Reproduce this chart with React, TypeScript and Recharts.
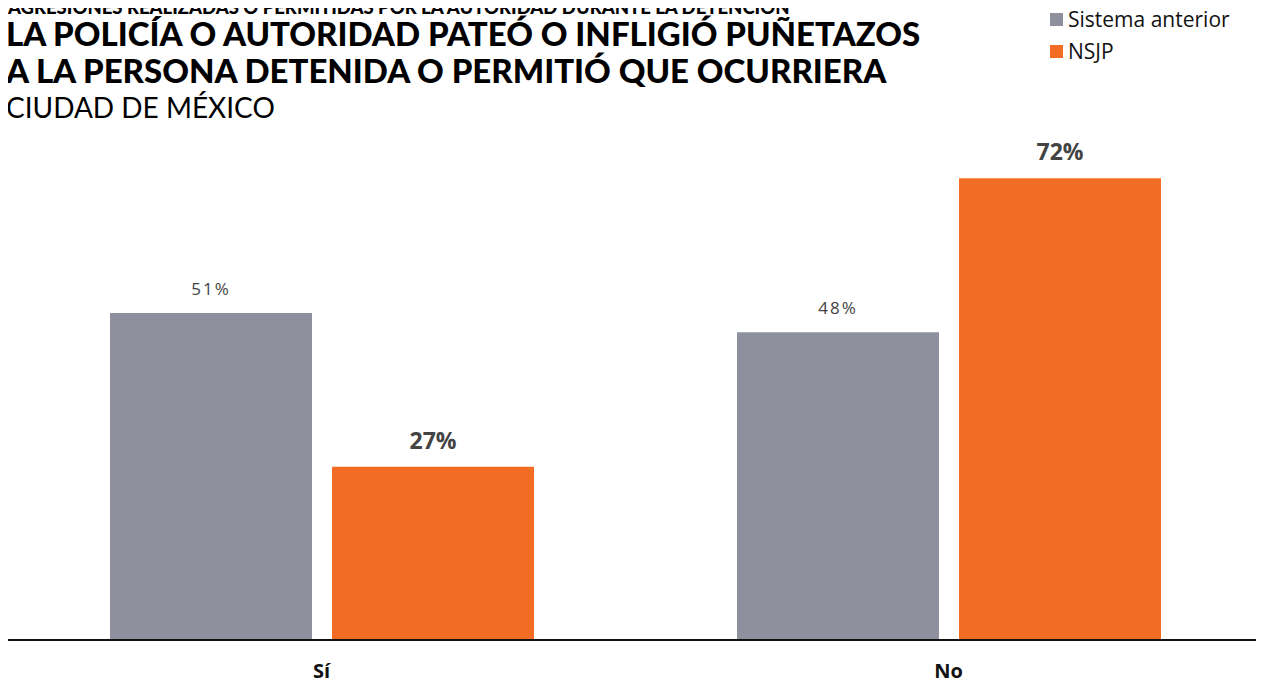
import { BarChart, Bar, XAxis, YAxis, LabelList } from 'recharts'

const categories = ['Sí', 'No']
const sistemaAnterior = [51, 48]
const nsjp = [27, 72]
const seriesNames = ['Sistema anterior', 'NSJP']

const GRAY = '#8e919d'
const ORANGE = '#f36c23'

const data = categories.map((c, i) => ({
  cat: c,
  anterior: sistemaAnterior[i],
  nsjp: nsjp[i],
}))

const CatTick = (props: any) => {
  const { x, y, payload } = props
  return (
    <text x={x} y={y + 30} textAnchor="middle" fill="#111" fontSize={20} fontWeight={700} fontFamily="'Open Sans', sans-serif">
      {payload.value}
    </text>
  )
}

export default function App() {
  return (
    <div style={{ position: 'relative', width: 1264, height: 683, margin: '-8px 0 0 -8px', background: '#fff', overflow: 'hidden', fontFamily: 'Lato, sans-serif' }}>
      <div style={{ position: 'absolute', left: 8, top: -2, fontSize: 18.5, lineHeight: 1, fontWeight: 900, color: '#000', whiteSpace: 'nowrap' }}>
        AGRESIONES REALIZADAS O PERMITIDAS POR LA AUTORIDAD DURANTE LA DETENCIÓN
      </div>
      <div style={{ position: 'absolute', left: 6, top: 15, fontSize: 33, fontWeight: 900, color: '#000', lineHeight: '37px', whiteSpace: 'nowrap' }}>
        LA POLICÍA O AUTORIDAD PATEÓ O INFLIGIÓ PUÑETAZOS<br />
        A LA PERSONA DETENIDA O PERMITIÓ QUE OCURRIERA
      </div>
      <div style={{ position: 'absolute', left: 6, top: 90, fontSize: 28, fontWeight: 400, color: '#000', whiteSpace: 'nowrap' }}>
        CIUDAD DE MÉXICO
      </div>
      <div style={{ position: 'absolute', left: 1050, top: 3, fontFamily: "'Open Sans', sans-serif", fontSize: 21, color: '#111' }}>
        {seriesNames.map((n, i) => (
          <div key={n} style={{ display: 'flex', alignItems: 'center', height: 32 }}>
            <span style={{ display: 'inline-block', width: 13, height: 13, background: i === 0 ? GRAY : ORANGE, marginRight: 5 }} />
            {n}
          </div>
        ))}
      </div>
      <div style={{ position: 'absolute', left: 0, top: 0 }}>
        <BarChart width={1264} height={683} data={data} margin={{ top: 127, right: 8, left: 8, bottom: 0 }} barSize={202} barGap={20}>
          <XAxis dataKey="cat" axisLine={{ stroke: '#111', strokeWidth: 2 }} tickLine={false} height={43} tick={<CatTick />} interval={0} padding={{ left: 0, right: -6 }} />
          <YAxis hide domain={[0, 80]} />
          <Bar dataKey="anterior" name={seriesNames[0]} fill={GRAY} isAnimationActive={false}>
            <LabelList dataKey="anterior" position="top" offset={18} formatter={(v: any) => `${v}%`}
              style={{ fill: '#444', fontSize: 17, fontFamily: "'Open Sans', sans-serif", letterSpacing: 2 }} />
          </Bar>
          <Bar dataKey="nsjp" name={seriesNames[1]} fill={ORANGE} isAnimationActive={false}>
            <LabelList dataKey="nsjp" position="top" offset={18} formatter={(v: any) => `${v}%`}
              style={{ fill: '#444', fontSize: 23, fontWeight: 700, fontFamily: "'Open Sans', sans-serif" }} />
          </Bar>
        </BarChart>
      </div>
    </div>
  )
}
